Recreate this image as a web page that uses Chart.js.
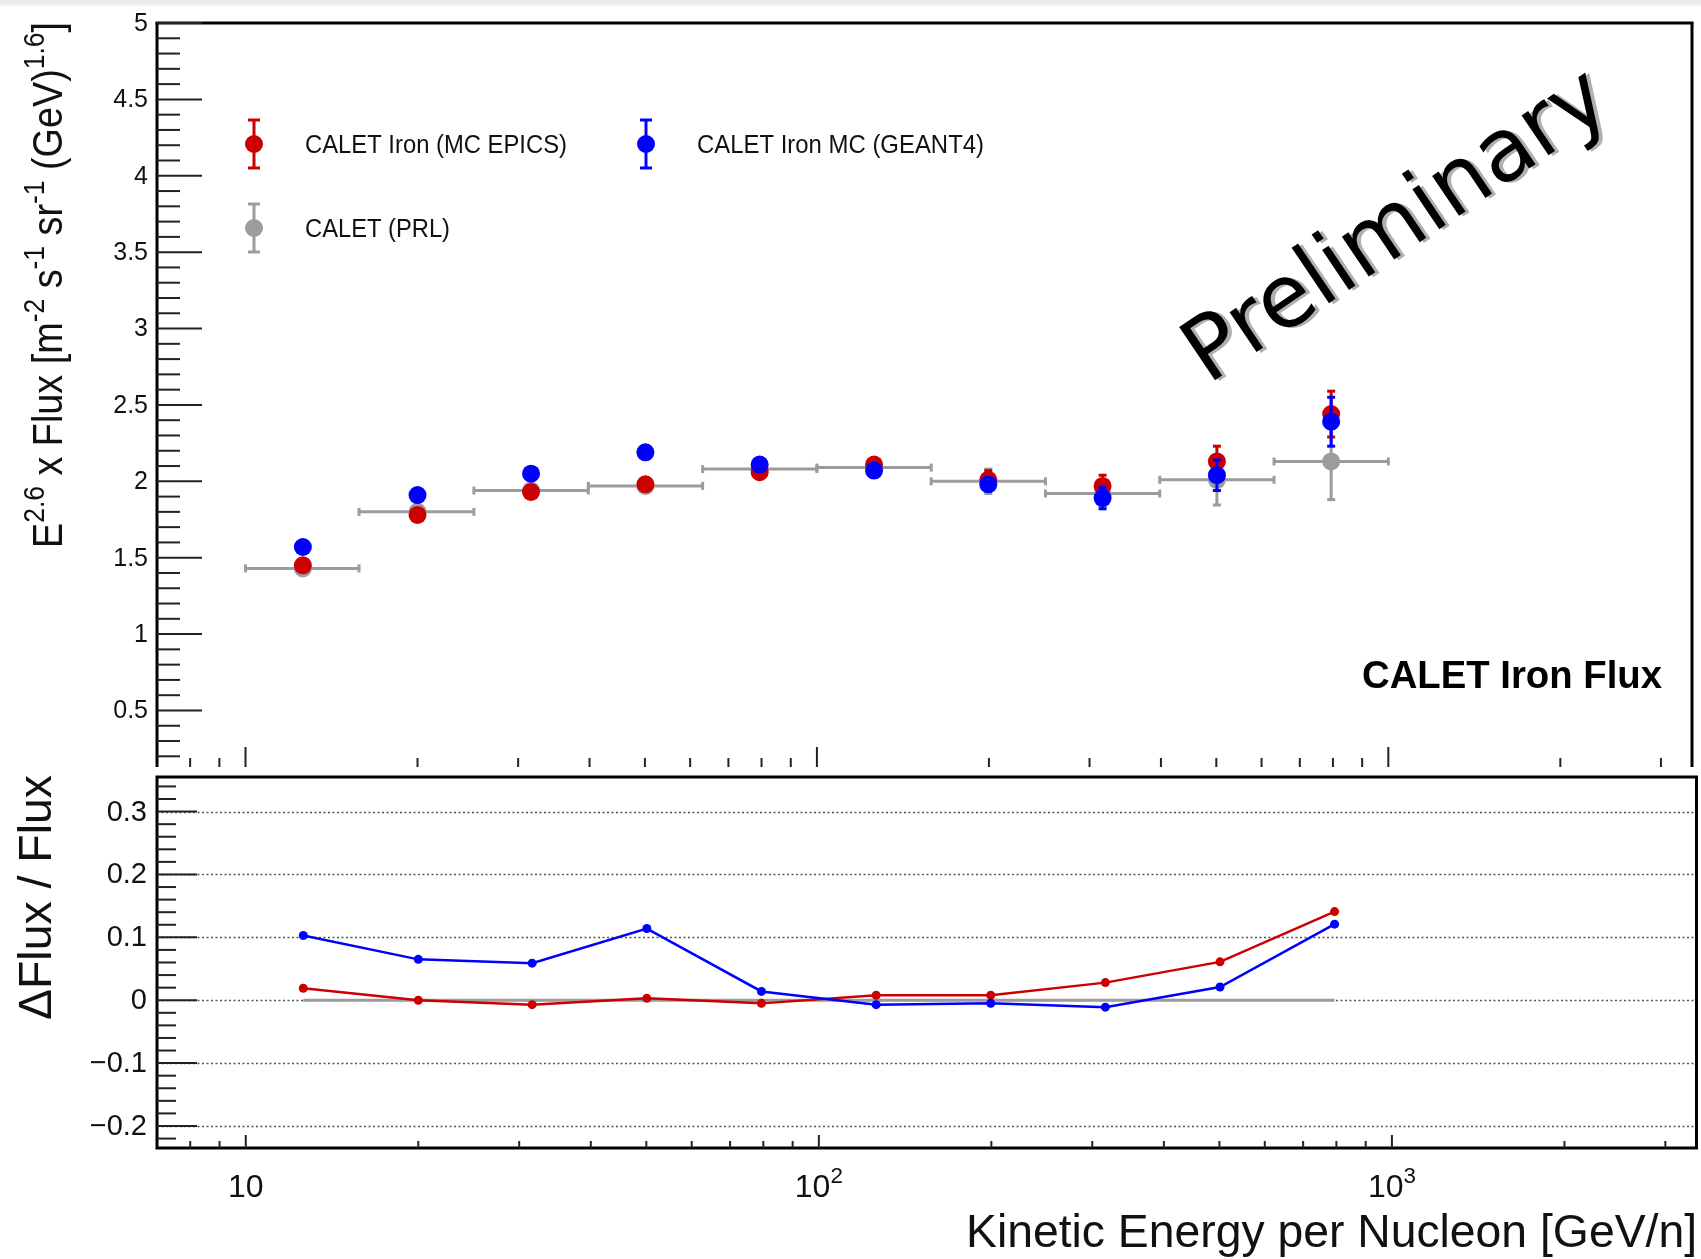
<!DOCTYPE html>
<html>
<head>
<meta charset="utf-8">
<script src="https://cdn.jsdelivr.net/npm/chart.js@4.4.0/dist/chart.umd.min.js"></script>
<style>
html, body { margin: 0; padding: 0; background: #fff; }
#wrap { position: relative; width: 1701px; height: 1259px; overflow: hidden;
        background: linear-gradient(to bottom, #e9e9e9 0px, #f3f3f3 5px, #fff 7px); }
canvas { position: absolute; left: 0; top: 0; }
</style>
</head>
<body>
<div id="wrap">
  <canvas id="fluxChart" width="1701" height="1259"></canvas>
  <canvas id="ratioChart" width="1701" height="1259"></canvas>
</div>
<script>
// bin centres and edges (GeV/n)
const energy  = [12.6, 20.0, 31.6, 50.1, 79.4, 125.9, 199.5, 316.2, 501.2, 794.3];
const binLow  = [10.0, 15.8, 25.1, 39.8, 63.1, 100.0, 158.5, 251.2, 398.1, 631.0];
const binHigh = [15.8, 25.1, 39.8, 63.1, 100.0, 158.5, 251.2, 398.1, 631.0, 1000.0];

// E^2.6 x flux
const prlFlux   = [1.43, 1.80, 1.94, 1.97, 2.08, 2.09, 2.00, 1.92, 2.01, 2.13];
const prlErr    = [0.02, 0.02, 0.02, 0.02, 0.03, 0.03, 0.08, 0.085, 0.165, 0.25];
const epicsFlux = [1.45, 1.78, 1.93, 1.98, 2.06, 2.11, 2.01, 1.97, 2.13, 2.44];
const epicsErr  = [0.02, 0.02, 0.02, 0.02, 0.03, 0.03, 0.06, 0.07, 0.10, 0.15];
const geantFlux = [1.57, 1.91, 2.05, 2.19, 2.11, 2.07, 1.98, 1.89, 2.04, 2.39];
const geantErr  = [0.02, 0.02, 0.02, 0.02, 0.03, 0.03, 0.04, 0.07, 0.10, 0.16];

// relative difference to PRL
const prlRatio   = [0, 0, 0, 0, 0, 0, 0, 0, 0, 0];
const epicsRatio = [0.019, 0.000, -0.007, 0.003, -0.005, 0.008, 0.008, 0.028, 0.061, 0.141];
const geantRatio = [0.103, 0.065, 0.059, 0.114, 0.014, -0.007, -0.005, -0.011, 0.021, 0.121];

// tick labels
const xTickValues = [10, 100, 1000];
const xTickExp    = ['', '2', '3'];
const fluxTicks   = [0.5, 1, 1.5, 2, 2.5, 3, 3.5, 4, 4.5, 5];
const ratioTicks  = [-0.2, -0.1, 0, 0.1, 0.2, 0.3];

const RED = '#cc0000', BLUE = '#0000ff', GRAY = '#9c9c9c';
const FONT = '"Liberation Sans", Arial, Helvetica, sans-serif';

const toPts = (xs, ys) => xs.map((x, i) => ({ x: x, y: ys[i] }));

function line(ctx, x1, y1, x2, y2) {
    ctx.beginPath(); ctx.moveTo(x1, y1); ctx.lineTo(x2, y2); ctx.stroke();
}

function fitText(ctx, text, x, y, font, width, align) {
    ctx.save();
    ctx.font = font;
    const s = width / ctx.measureText(text).width;
    ctx.translate(x, y); ctx.scale(s, 1);
    ctx.textAlign = align; ctx.textBaseline = 'alphabetic';
    ctx.fillText(text, 0, 0);
    ctx.restore();
}

// text with superscripts: parts = [[text, isSup], ...]
function richWidth(ctx, parts, size) {
    let w = 0;
    parts.forEach(function (p) {
        ctx.font = (p[1] ? size * 0.7 : size) + 'px ' + FONT;
        w += ctx.measureText(p[0]).width;
    });
    return w;
}
function drawRich(ctx, parts, x, y, size) {
    let cx = x;
    ctx.textAlign = 'left'; ctx.textBaseline = 'alphabetic';
    parts.forEach(function (p) {
        ctx.font = (p[1] ? size * 0.7 : size) + 'px ' + FONT;
        ctx.fillText(p[0], cx, p[1] ? y - size * 0.43 : y);
        cx += ctx.measureText(p[0]).width;
    });
}

// log ticks along the x axis, pointing up into the frame
function drawXTicks(ctx, xs, yPix, majorLen, minorLen) {
    ctx.save();
    ctx.strokeStyle = '#222'; ctx.lineWidth = 2;
    for (let d = 0; d <= 3; d++) {
        for (let k = 1; k <= 9; k++) {
            const v = k * Math.pow(10, d);
            if (v <= xs.min * 1.001 || v >= xs.max) continue;
            const px = xs.getPixelForValue(v);
            line(ctx, px, yPix, px, yPix - (k === 1 ? majorLen : minorLen));
        }
    }
    ctx.restore();
}

function drawYTicks(ctx, ys, xPix, step, nSub, majorLen, minorLen) {
    ctx.save();
    ctx.strokeStyle = '#222'; ctx.lineWidth = 2;
    const minor = step / nSub;
    const start = Math.ceil(ys.min / minor - 1e-6);
    const end = Math.floor(ys.max / minor + 1e-6);
    for (let i = start; i <= end; i++) {
        const v = i * minor;
        const py = ys.getPixelForValue(v);
        const isMajor = (i % nSub) === 0;
        line(ctx, xPix, py, xPix + (isMajor ? majorLen : minorLen), py);
    }
    ctx.restore();
}

// vertical / horizontal error bars drawn just below each dataset's markers
const errorBarPlugin = {
    id: 'errorBars',
    beforeDatasetDraw(chart, args) {
        const ds = chart.data.datasets[args.index];
        if (!ds.errY) return;
        const ctx = chart.ctx, xs = chart.scales.x, ys = chart.scales.y;
        ctx.save();
        ctx.strokeStyle = ds.backgroundColor;
        ctx.lineWidth = 3;
        ds.data.forEach(function (p, i) {
            const px = xs.getPixelForValue(p.x);
            const py = ys.getPixelForValue(p.y);
            const top = ys.getPixelForValue(p.y + ds.errY[i]);
            const bot = ys.getPixelForValue(p.y - ds.errY[i]);
            line(ctx, px, top, px, bot);
            line(ctx, px - 4, top, px + 4, top);
            line(ctx, px - 4, bot, px + 4, bot);
            if (ds.errXLow) {
                const l = xs.getPixelForValue(ds.errXLow[i]);
                const r = xs.getPixelForValue(ds.errXHigh[i]);
                line(ctx, l, py, r, py);
                line(ctx, l, py - 4, l, py + 4);
                line(ctx, r, py - 4, r, py + 4);
            }
        });
        ctx.restore();
    }
};

function legendEntry(ctx, x, y, color, text, textWidth) {
    ctx.save();
    ctx.strokeStyle = color; ctx.fillStyle = color; ctx.lineWidth = 3;
    line(ctx, x, y - 24, x, y + 24);
    line(ctx, x - 6, y - 24, x + 6, y - 24);
    line(ctx, x - 6, y + 24, x + 6, y + 24);
    ctx.beginPath(); ctx.arc(x, y, 9, 0, Math.PI * 2); ctx.fill();
    ctx.fillStyle = '#111';
    fitText(ctx, text, x + 51, y + 9, '25px ' + FONT, textWidth, 'left');
    ctx.restore();
}

// frame, ticks, labels, legend and captions of the flux panel
const fluxFramePlugin = {
    id: 'fluxFrame',
    afterDraw(chart) {
        const ctx = chart.ctx, a = chart.chartArea;
        const xs = chart.scales.x, ys = chart.scales.y;
        ctx.save();
        ctx.strokeStyle = '#000'; ctx.lineWidth = 3;
        line(ctx, a.left, a.bottom, a.left, a.top);
        line(ctx, a.left - 1.5, a.top, a.right + 1.5, a.top);
        line(ctx, a.right, a.top, a.right, a.bottom);
        ctx.restore();

        drawYTicks(ctx, ys, a.left, 0.5, 5, 45, 23);
        drawXTicks(ctx, xs, a.bottom, 20, 9);

        ctx.save();
        ctx.fillStyle = '#111';
        ctx.font = '25px ' + FONT;
        ctx.textAlign = 'right'; ctx.textBaseline = 'middle';
        fluxTicks.forEach(function (v) {
            ctx.fillText(String(v), 148, ys.getPixelForValue(v) + 1);
        });

        // y title
        const parts = [['E', 0], ['2.6', 1], [' x Flux [m', 0], ['-2', 1], [' s', 0], ['-1', 1],
                       [' sr', 0], ['-1', 1], [' (GeV)', 0], ['1.6', 1], [']', 0]];
        const w = richWidth(ctx, parts, 42);
        ctx.translate(62, 548);
        ctx.rotate(-Math.PI / 2);
        ctx.scale(526 / w, 1);
        drawRich(ctx, parts, 0, 0, 42);
        ctx.restore();

        // legend
        legendEntry(ctx, 254, 144, RED, 'CALET Iron (MC EPICS)', 262);
        legendEntry(ctx, 646, 144, BLUE, 'CALET Iron MC (GEANT4)', 287);
        legendEntry(ctx, 254, 228, GRAY, 'CALET (PRL)', 145);

        ctx.save();
        ctx.fillStyle = '#000';
        fitText(ctx, 'CALET Iron Flux', 1662, 688, 'bold 38px ' + FONT, 300, 'right');
        ctx.restore();

        // Preliminary stamp
        ctx.save();
        ctx.font = '88px "DejaVu Sans", sans-serif';
        const pw = ctx.measureText('Preliminary').width;
        ctx.translate(1208, 385);
        ctx.rotate(-34 * Math.PI / 180);
        ctx.scale(490 / pw, 1);
        ctx.textAlign = 'left'; ctx.textBaseline = 'alphabetic';
        ctx.fillStyle = '#b0b0b0';
        ctx.fillText('Preliminary', 3, 3);
        ctx.fillStyle = '#000';
        ctx.fillText('Preliminary', 0, 0);
        ctx.restore();
    }
};

const ratioFramePlugin = {
    id: 'ratioFrame',
    beforeDatasetsDraw(chart) {
        const ctx = chart.ctx, a = chart.chartArea, ys = chart.scales.y;
        ctx.save();
        ctx.strokeStyle = '#555'; ctx.lineWidth = 1.5;
        ctx.setLineDash([2, 2.5]);
        ratioTicks.forEach(function (v) {
            const py = Math.round(ys.getPixelForValue(v)) + 0.5;
            line(ctx, a.left, py, a.right, py);
        });
        ctx.restore();
    },
    afterDraw(chart) {
        const ctx = chart.ctx, a = chart.chartArea;
        const xs = chart.scales.x, ys = chart.scales.y;
        ctx.save();
        ctx.strokeStyle = '#000'; ctx.lineWidth = 3;
        ctx.strokeRect(a.left, a.top, a.right - a.left, a.bottom - a.top);
        ctx.restore();

        drawYTicks(ctx, ys, a.left, 0.1, 5, 40, 19);
        drawXTicks(ctx, xs, a.bottom, 13, 7);

        ctx.save();
        ctx.fillStyle = '#111';
        ctx.font = '29px ' + FONT;
        ctx.textAlign = 'right'; ctx.textBaseline = 'middle';
        ratioTicks.forEach(function (v) {
            const txt = v < 0 ? '\u2212' + String(-v) : String(v);
            ctx.fillText(txt, 147, ys.getPixelForValue(v) + 1);
        });

        // x tick labels 10, 10^2, 10^3
        xTickValues.forEach(function (v, i) {
            const parts = xTickExp[i] ? [['10', 0], [xTickExp[i], 1]] : [['10', 0]];
            const w = richWidth(ctx, parts, 32);
            drawRich(ctx, parts, xs.getPixelForValue(v) - w / 2, 1197, 32);
        });
        ctx.restore();

        ctx.save();
        ctx.fillStyle = '#111';
        fitText(ctx, 'Kinetic Energy per Nucleon [GeV/n]', 1697, 1247, '46px ' + FONT, 731, 'right');

        // y title
        ctx.translate(51, 1020);
        ctx.rotate(-Math.PI / 2);
        fitText(ctx, '\u0394Flux / Flux', 0, 0, '46px ' + FONT, 245, 'left');
        ctx.restore();
    }
};

const baseOptions = function (padding, yMin, yMax) {
    return {
        responsive: false,
        animation: false,
        devicePixelRatio: 1,
        layout: { padding: padding },
        plugins: { legend: { display: false }, tooltip: { enabled: false } },
        scales: {
            x: { type: 'logarithmic', min: 7, max: 3400, display: false },
            y: { type: 'linear', min: yMin, max: yMax, display: false }
        }
    };
};

document.addEventListener('DOMContentLoaded', function () {
    new Chart(document.getElementById('fluxChart'), {
        type: 'scatter',
        data: {
            datasets: [
                { label: 'CALET Iron MC (GEANT4)', data: toPts(energy, geantFlux), errY: geantErr,
                  backgroundColor: BLUE, borderColor: BLUE, pointRadius: 9, pointBorderWidth: 0, order: 1 },
                { label: 'CALET Iron (MC EPICS)', data: toPts(energy, epicsFlux), errY: epicsErr,
                  backgroundColor: RED, borderColor: RED, pointRadius: 9, pointBorderWidth: 0, order: 2 },
                { label: 'CALET (PRL)', data: toPts(energy, prlFlux), errY: prlErr,
                  errXLow: binLow, errXHigh: binHigh,
                  backgroundColor: GRAY, borderColor: GRAY, pointRadius: 9, pointBorderWidth: 0, order: 3 }
            ]
        },
        options: baseOptions({ left: 157, top: 23, right: 4, bottom: 492 }, 0.13, 5),
        plugins: [errorBarPlugin, fluxFramePlugin]
    });

    new Chart(document.getElementById('ratioChart'), {
        type: 'scatter',
        data: {
            datasets: [
                { label: 'GEANT4', data: toPts(energy, geantRatio), showLine: true, tension: 0,
                  borderColor: BLUE, borderWidth: 2.5, backgroundColor: BLUE,
                  pointRadius: 4.5, pointBorderWidth: 0, order: 1 },
                { label: 'EPICS', data: toPts(energy, epicsRatio), showLine: true, tension: 0,
                  borderColor: RED, borderWidth: 2.5, backgroundColor: RED,
                  pointRadius: 4.5, pointBorderWidth: 0, order: 2 },
                { label: 'PRL', data: toPts(energy, prlRatio), showLine: true, tension: 0,
                  borderColor: GRAY, borderWidth: 3, backgroundColor: GRAY,
                  pointRadius: 0, order: 3 }
            ]
        },
        options: baseOptions({ left: 157, top: 777, right: 4, bottom: 111 }, -0.235, 0.355),
        plugins: [ratioFramePlugin]
    });
});
</script>
</body>
</html>
